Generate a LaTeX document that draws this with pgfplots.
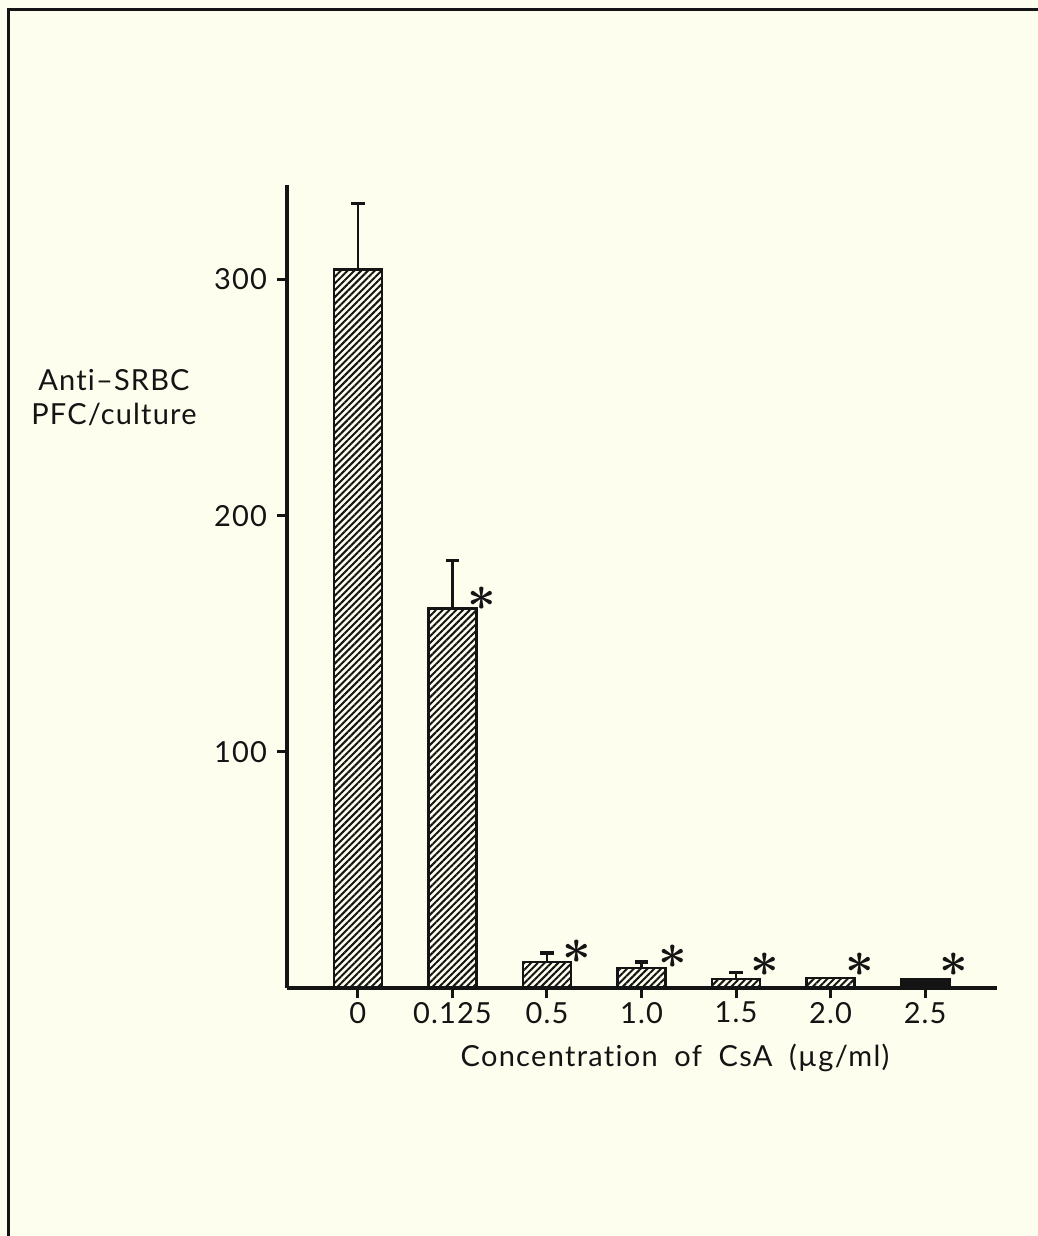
\documentclass[border=0pt]{standalone}
\usepackage{fontspec}
\setmainfont{Lato}[LetterSpace=4, Ligatures=NoCommon, WordSpace=1.5]
\newfontfamily\xlabfont{Lato}[LetterSpace=4.5, Ligatures=NoCommon, WordSpace=1.9]
\usepackage{pgfplots}
\pgfplotsset{compat=1.18}
\usetikzlibrary{patterns.meta}
\definecolor{paper}{RGB}{254,254,238}
\definecolor{ink}{RGB}{20,20,20}
\begin{document}
\fontsize{14.5}{17}\selectfont
\begin{tikzpicture}
\path[use as bounding box, fill=paper] (0,0) rectangle (519pt,-618pt);
\draw[ink, line width=1.5pt] (4.25pt,-618pt) -- (4.25pt,-4.75pt) -- (519pt,-4.75pt);
\begin{axis}[
  at={(143.5pt,-494pt)}, anchor=south west,
  scale only axis, width=355pt, height=401.5pt,
  xmin=-0.75, xmax=6.76, ymin=0, ymax=340,
  axis lines=left, axis line style={ink, line width=2pt, -},
  xtick={0,...,6}, xticklabels={0,0.125,0.5,1.0,1.5,2.0,2.5},
  ytick={100,200,300},
  tick align=outside, major tick length=5pt,
  tick style={ink, line width=1.5pt},
  /pgf/number format/assume math mode=true,
  ticklabel style={font=\fontsize{14.5}{17}\selectfont, text=ink},
  xticklabel style={yshift=3pt},
  xlabel={Concentration of CsA (µg/ml)},
  xlabel style={at={(rel axis cs:0.5465,-0.0872)}, anchor=center, font=\xlabfont\fontsize{14.5}{17}\selectfont, text=ink},
  ylabel={Anti–SRBC\\PFC/culture},
  ylabel style={rotate=-90, align=center, at={(rel axis cs:-0.2437,0.7354)}, anchor=center, font=\fontsize{14.5}{17}\selectfont, text=ink},
  clip=false,
]
\addplot[ybar, bar width=24pt, bar shift=0pt, draw=ink, line width=1.4pt,
  pattern={Lines[angle=45, distance=2.4pt, line width=1pt]}, pattern color=ink,
  error bars/.cd, y dir=plus, y explicit, error mark=|,
  error bar style={line width=1.1pt, ink},
  error mark options={line width=1.6pt, mark size=3.3pt, ink}]
  coordinates {(0,304.2) +- (0,28) (1,160.6) +- (0,20.4) (2,11.0) +- (0,3.8) (3,8.5) +- (0,2.5) (4,3.8) +- (0,2.6)};
\addplot[ybar, bar width=24pt, bar shift=0pt, draw=ink, line width=1.4pt,
  pattern={Lines[angle=45, distance=2.4pt, line width=1pt]}, pattern color=ink]
  coordinates {(5,4.2)};
\addplot[ybar, bar width=24pt, bar shift=0pt, draw=ink, line width=1.4pt, fill=ink]
  coordinates {(6,3.8)};
\addplot[draw=none, mark=none, nodes near coords={$\ast$},
  every node near coord/.append style={anchor=center, font=\boldmath\fontsize{24}{24}\selectfont, text=ink, inner sep=0pt}]
  coordinates {(1.312,165) (2.317,15.3) (3.333,13.1) (4.307,9.7) (5.312,9.7) (6.307,9.7)};
\end{axis}
\end{tikzpicture}
\end{document}
